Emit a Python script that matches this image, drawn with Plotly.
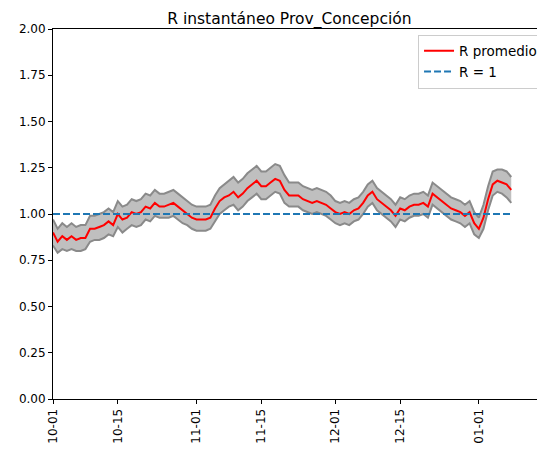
import pandas as pd
import plotly.graph_objects as go

FONT = "DejaVu Sans"

fechas = pd.date_range("2020-10-01", "2021-01-08", freq="D")

r_promedio = [
    # octubre
    0.90, 0.85, 0.88, 0.86, 0.88, 0.86, 0.87, 0.87, 0.92, 0.92, 0.93, 0.94, 0.96, 0.94, 1.00, 0.97,
    0.98, 1.01, 1.00, 1.01, 1.04, 1.03, 1.06, 1.04, 1.04, 1.05, 1.06, 1.04, 1.02, 1.00, 0.98,
    # noviembre
    0.97, 0.97, 0.97, 0.98, 1.03, 1.07, 1.09, 1.10, 1.12, 1.09, 1.11, 1.14, 1.16, 1.18, 1.15,
    1.15, 1.17, 1.19, 1.18, 1.13, 1.10, 1.10, 1.10, 1.08, 1.07, 1.06, 1.07, 1.06, 1.05, 1.03,
    # diciembre
    1.01, 1.00, 1.01, 1.00, 1.02, 1.03, 1.06, 1.10, 1.12, 1.08, 1.06, 1.04, 1.02, 0.99, 1.03, 1.02,
    1.04, 1.05, 1.05, 1.06, 1.04, 1.11, 1.09, 1.07, 1.05, 1.03, 1.02, 1.01, 0.99, 1.01, 0.95,
    # enero
    0.92, 0.98, 1.08, 1.16, 1.18, 1.17, 1.16, 1.13,
]

r_superior = [
    0.97, 0.92, 0.95, 0.93, 0.95, 0.93, 0.94, 0.94, 0.99, 0.99, 1.00, 1.01, 1.03, 1.01, 1.07, 1.04,
    1.05, 1.08, 1.07, 1.08, 1.11, 1.10, 1.13, 1.11, 1.11, 1.12, 1.13, 1.11, 1.09, 1.07, 1.05,
    1.04, 1.04, 1.04, 1.05, 1.10, 1.14, 1.16, 1.18, 1.20, 1.17, 1.19, 1.22, 1.24, 1.26, 1.23,
    1.23, 1.25, 1.27, 1.26, 1.21, 1.17, 1.17, 1.17, 1.15, 1.14, 1.13, 1.14, 1.13, 1.12, 1.10,
    1.07, 1.06, 1.07, 1.06, 1.08, 1.09, 1.12, 1.16, 1.18, 1.14, 1.12, 1.10, 1.08, 1.05, 1.09, 1.08,
    1.10, 1.11, 1.11, 1.12, 1.10, 1.17, 1.15, 1.13, 1.11, 1.09, 1.08, 1.07, 1.05, 1.07, 1.01,
    0.98, 1.05, 1.15, 1.23, 1.24, 1.24, 1.23, 1.20,
]

r_inferior = [
    0.83, 0.79, 0.81, 0.80, 0.81, 0.80, 0.80, 0.81, 0.85, 0.86, 0.86, 0.87, 0.89, 0.88, 0.93, 0.90,
    0.92, 0.94, 0.93, 0.94, 0.97, 0.96, 0.99, 0.98, 0.98, 0.98, 0.99, 0.97, 0.95, 0.94, 0.92,
    0.91, 0.91, 0.91, 0.92, 0.96, 1.00, 1.02, 1.04, 1.05, 1.02, 1.04, 1.07, 1.09, 1.11, 1.08,
    1.08, 1.10, 1.12, 1.11, 1.06, 1.04, 1.04, 1.04, 1.02, 1.01, 1.00, 1.01, 1.00, 0.99, 0.97,
    0.95, 0.94, 0.95, 0.94, 0.96, 0.97, 1.00, 1.04, 1.06, 1.02, 1.00, 0.98, 0.96, 0.93, 0.97, 0.96,
    0.98, 0.99, 0.99, 1.00, 0.98, 1.05, 1.03, 1.01, 0.99, 0.97, 0.96, 0.95, 0.93, 0.95, 0.89,
    0.87, 0.92, 1.02, 1.10, 1.12, 1.11, 1.09, 1.06,
]

ref_x = ["2020-10-01", "2021-01-08"]
ref_y = [1, 1]

tick_fechas = ["2020-10-01", "2020-10-15", "2020-11-01", "2020-11-15", "2020-12-01", "2020-12-15", "2021-01-01"]
tick_textos = ["10-01", "10-15", "11-01", "11-15", "12-01", "12-15", "01-01"]

fig = go.Figure()
fig.add_trace(go.Scatter(x=fechas, y=r_inferior, mode="lines", line=dict(color="#8a8a8a", width=2),
                         showlegend=False, hoverinfo="skip"))
fig.add_trace(go.Scatter(x=fechas, y=r_superior, mode="lines", line=dict(color="#8a8a8a", width=2),
                         fill="tonexty", fillcolor="rgba(128,128,128,0.5)", showlegend=False, hoverinfo="skip"))
fig.add_trace(go.Scatter(x=fechas, y=r_promedio, mode="lines", name="R promedio",
                         line=dict(color="#ff0000", width=2)))
fig.add_trace(go.Scatter(x=ref_x, y=ref_y, mode="lines", name="R = 1",
                         line=dict(color="#1f77b4", width=2, dash="7px,3px")))

# the page adds an 8px body margin, so the figure is a bit smaller than the window
fig.update_layout(
    width=537, height=446,
    margin=dict(l=45, r=0, t=21, b=55, autoexpand=False),
    paper_bgcolor="white", plot_bgcolor="white",
    font=dict(family=FONT, size=12, color="black"),
    title=dict(text="R instantáneo Prov_Concepción", x=0.524, xanchor="center", y=0.976, yanchor="middle",
               font=dict(size=15.5, color="black")),
    legend=dict(x=0.996, xanchor="right", y=0.985, yanchor="top", bordercolor="#cccccc", borderwidth=1,
                bgcolor="rgba(255,255,255,0.8)", font=dict(size=13.5), traceorder="normal",
                tracegroupgap=0, itemwidth=30),
    showlegend=True,
)
fig.update_xaxes(
    range=["2020-10-01", "2021-01-15 07:00"], showgrid=False, zeroline=False, automargin=False,
    showline=True, linecolor="black", linewidth=1, mirror=True,
    ticks="outside", ticklen=4, tickcolor="black",
    tickmode="array", tickvals=tick_fechas, ticktext=tick_textos, tickangle=-90,
)
fig.update_yaxes(
    range=[0, 2], showgrid=False, zeroline=False, automargin=False,
    showline=True, linecolor="black", linewidth=1,
    ticks="outside", ticklen=4, tickcolor="black",
    tick0=0, dtick=0.25, tickformat=".2f",
)

fig.write_html("out.html")
